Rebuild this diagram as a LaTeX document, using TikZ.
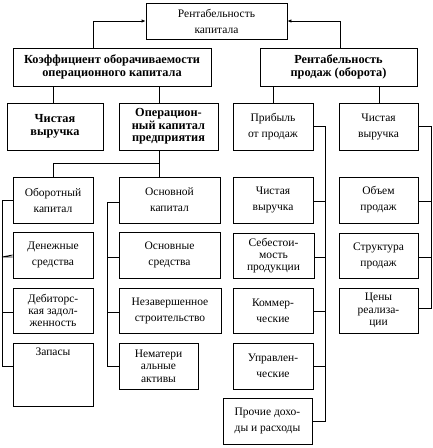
\documentclass[tikz,border=0pt]{standalone}
\usepackage{fontspec}
\setmainfont{Liberation Serif}
\usetikzlibrary{arrows.meta,calc}
\tikzset{
  bx/.style={draw,line width=0.8pt,inner sep=0pt,align=center,font=\fontsize{11.5}{16}\selectfont},
  bxs/.style={bx,font=\fontsize{11.5}{12.3}\selectfont},
  bxb/.style={bx,font=\fontsize{12.3}{12.5}\selectfont\bfseries},
  ln/.style={line width=0.8pt},
  arr/.style={ln,-{Latex[length=4pt,width=3.5pt]}}
}
\newcommand{\bxat}[6][bx]{\node[#1,minimum width={#5-#3},minimum height={#6-#4}] (#2) at ({(#3+#5)/2},{(#4+#6)/2})}
\begin{document}
\begin{tikzpicture}[x=1pt,y=-1pt]
\useasboundingbox (0,0) rectangle (432,448);
\bxat{top}{146}{3}{287}{39} {Рентабельность\\капитала};
\bxat[bxb]{koef}{13}{48}{211}{86} {Коэффициент оборачиваемости\\операционного капитала};
\bxat[bxb]{rprod}{260}{48}{417}{86} {Рентабельность\\продаж (оборота)};
\bxat[bxb]{cv1}{7}{103}{103}{150} {Чистая\\выручка};
\bxat[bxb]{opk}{119}{103}{218}{150} {Операцион-\\ный капитал\\предприятия};
\bxat{pp}{233}{103}{313}{150} {Прибыль\\от продаж};
\bxat{cv2}{339}{103}{418}{150} {Чистая\\выручка};
% left columns
\bxat{ok}{13}{177}{93}{223} {Оборотный\\капитал};
\bxat{dc}{13}{232}{93}{278} {Денежные\\средства};
\bxat[bxs]{dz}{13}{288}{93}{333} {Дебиторс-\\кая задол-\\женность};
\bxat{zap}{13}{343}{93}{406} {};
\node[bx,draw=none,anchor=north] (zapt) at ($(zap.north)+(0,5)$) {Запасы};
\bxat{osk}{119}{177}{220}{223} {Основной\\капитал};
\bxat{os}{119}{232}{220}{278} {Основные\\средства};
\bxat{ns}{119}{288}{221}{333} {Незавершенное\\строительство};
\bxat[bxs]{nma}{119}{343}{198}{389} {Нематери\\альные\\активы};
% right columns
\bxat{cv3}{233}{177}{313}{223} {Чистая\\выручка};
\bxat[bxs]{seb}{233}{233}{314}{278} {Себестои-\\мость\\продукции};
\bxat{kom}{233}{288}{313}{333} {Коммер-\\ческие};
\bxat{upr}{233}{343}{313}{389} {Управлен-\\ческие};
\bxat{proch}{223}{398}{312}{444} {Прочие дохо-\\ды и расходы};
\bxat{ob}{339}{177}{418}{223} {Объем\\продаж};
\bxat{str}{339}{233}{418}{278} {Структура\\продаж};
\bxat[bxs]{cen}{339}{288}{418}{333} {Цены\\реализа-\\ции};
% arrows to top
\draw[arr] (koef.north -| 93,0) |- (top.west);
\draw[arr] (rprod.north -| 340,0) |- (top.east);
% koef children
\draw[ln] (koef.south -| 53,0) -- (cv1.north -| 53,0);
\draw[ln] (koef.south -| 159,0) -- (opk.north -| 159,0);
% rprod children
\draw[ln] (rprod.south -| 273,0) -- (pp.north -| 273,0);
\draw[ln] (rprod.south -| 379,0) -- (cv2.north -| 379,0);
% opk children
\coordinate (j1) at (159,163);
\draw[ln] (opk.south -| j1) -- (osk.north -| j1);
\draw[ln] (ok.north) |- (j1);
% left bus
\coordinate (lb) at (2,0);
\draw[ln] (ok.west) -- (ok.west -| lb) -- ($(zap.west -| lb)+(0,-8.5)$) -- ($(zap.west)+(0,-8.5)$);
\draw[ln] (dc.west) -- ($(dc.west -| lb)+(0,2)$) -- ($(dc.west)+(0,2)$);
\draw[ln] ($(dz.west)+(0,1.5)$) -- ($(dz.west -| lb)+(0,1.5)$);
% middle bus
\coordinate (mb) at (107,0);
\draw[ln] ($(osk.west)+(0,2)$) -- ($(osk.west -| mb)+(0,2)$) -- (nma.west -| mb) -- (nma.west);
\draw[ln] ($(os.west)+(0,2)$) -- ($(os.west -| mb)+(0,2)$);
\draw[ln] ($(ns.west)+(0,1.5)$) -- ($(ns.west -| mb)+(0,1.5)$);
% right bus from pp
\coordinate (rb) at (325,0);
\draw[ln] (pp.east) -- (pp.east -| rb) -- (proch.east -| rb) -- (proch.east);
\draw[ln] ($(cv3.east)+(0,1)$) -- ($(cv3.east -| rb)+(0,1)$);
\draw[ln] ($(seb.east)+(0,1.5)$) -- ($(seb.east -| rb)+(0,1.5)$);
\draw[ln] ($(kom.east)+(0,0.5)$) -- ($(kom.east -| rb)+(0,0.5)$);
\draw[ln] (upr.east) -- (upr.east -| rb);
% far right bus
\coordinate (fb) at (431,0);
\draw[ln] (cv2.east) -- (cv2.east -| fb) -- ($(cen.east -| fb)+(0,-2.5)$) -- ($(cen.east)+(0,-2.5)$);
\draw[ln] ($(ob.east)+(0,1)$) -- ($(ob.east -| fb)+(0,1)$);
\draw[ln] ($(str.east)+(0,1.5)$) -- ($(str.east -| fb)+(0,1.5)$);
\end{tikzpicture}
\end{document}
